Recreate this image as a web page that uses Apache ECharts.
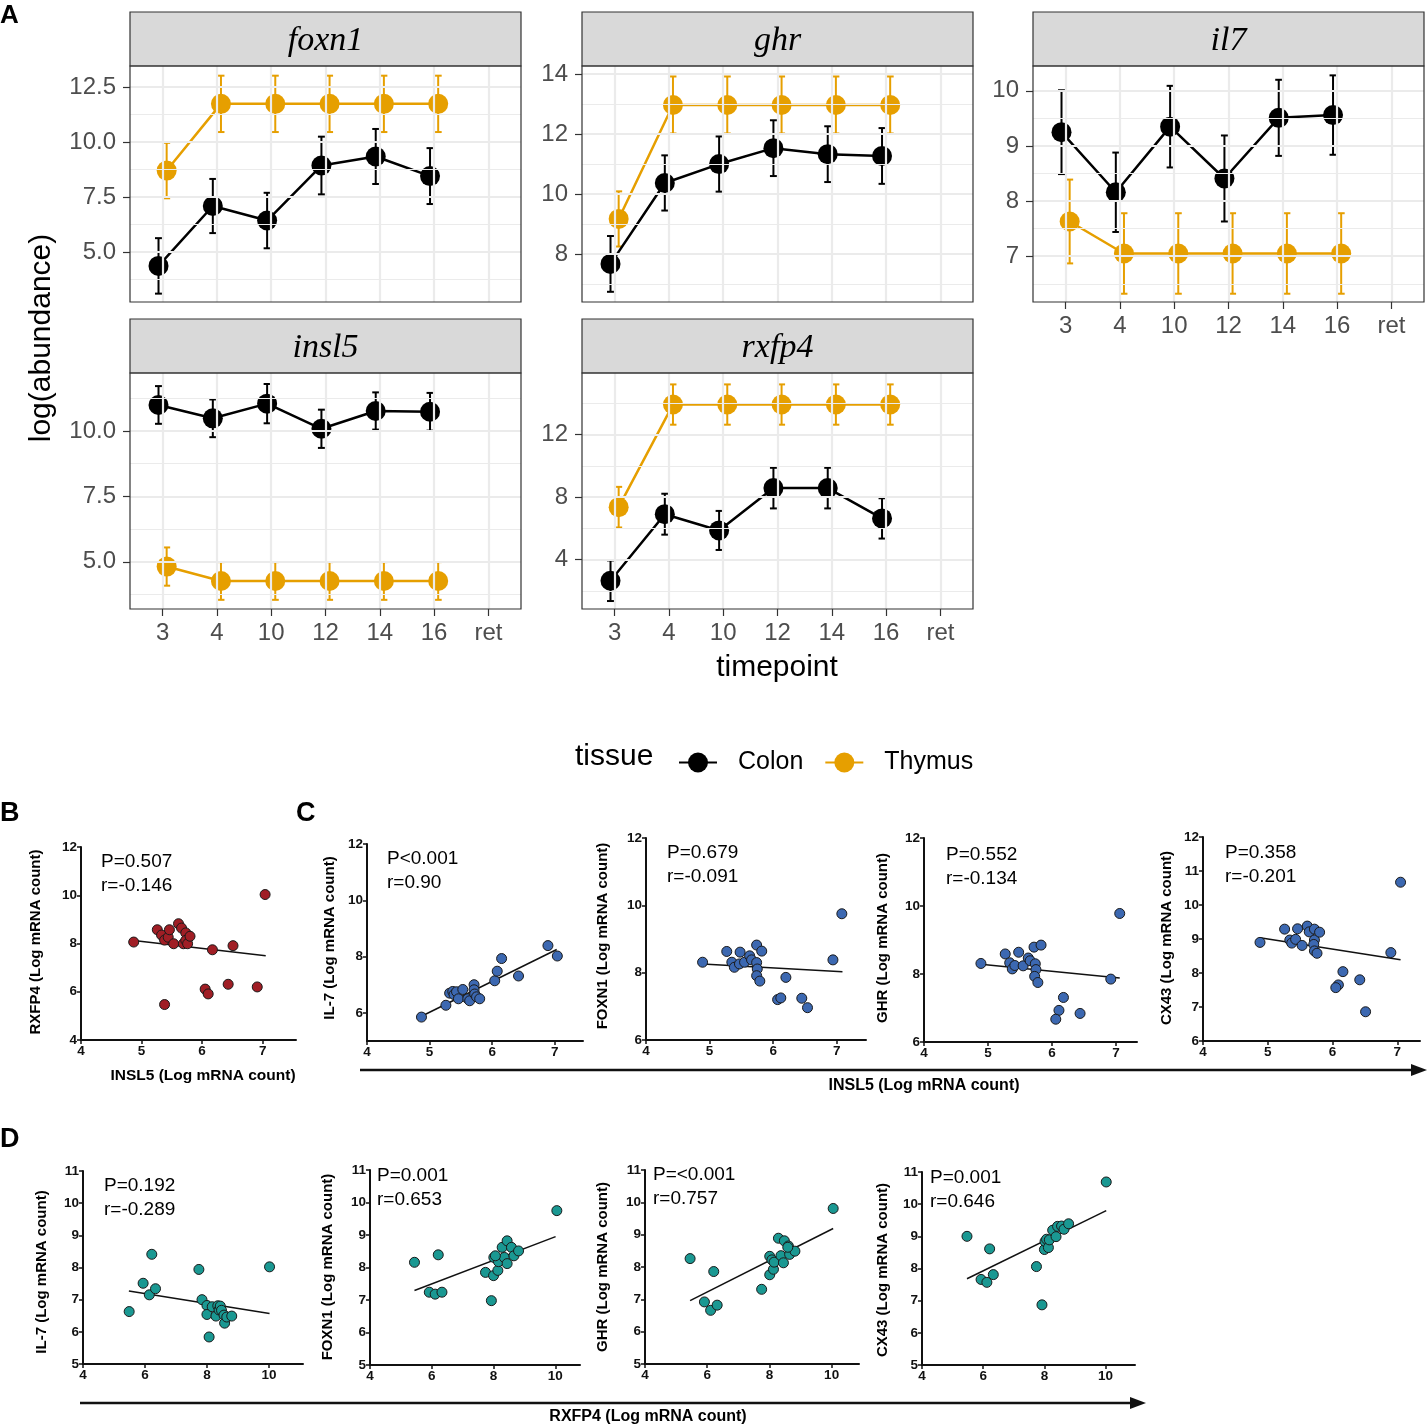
<!DOCTYPE html>
<html><head><meta charset="utf-8">
<script src="https://cdn.jsdelivr.net/npm/echarts@6/dist/echarts.min.js"></script>
<style>html,body{margin:0;padding:0;background:#fff}#c{width:1427px;height:1428px}</style>
</head><body><div id="c"></div>
<script>
// ---------- Panel A data ----------
const timepoints = ['3','4','10','12','14','16','ret'];
const foxn1Colon = [4.37, 7.09, 6.43, 8.93, 9.34, 8.45];
const foxn1ColonErr = [1.26, 1.23, 1.26, 1.31, 1.25, 1.27];
const foxn1Thymus = [8.70, 11.73, 11.73, 11.73, 11.73, 11.73];
const foxn1ThymusErr = [1.26, 1.28, 1.28, 1.28, 1.28, 1.28];
const ghrColon = [7.67, 10.37, 11.0, 11.53, 11.33, 11.27];
const ghrColonErr = [0.93, 0.92, 0.92, 0.93, 0.93, 0.93];
const ghrThymus = [9.17, 12.97, 12.97, 12.97, 12.97, 12.97];
const ghrThymusErr = [0.92, 0.95, 0.95, 0.95, 0.95, 0.95];
const il7Colon = [9.25, 8.16, 9.35, 8.41, 9.51, 9.56];
const il7ColonErr = [0.76, 0.72, 0.74, 0.78, 0.69, 0.72];
const il7Thymus = [7.63, 7.05, 7.05, 7.05, 7.05, 7.05];
const il7ThymusErr = [0.76, 0.73, 0.73, 0.73, 0.73, 0.73];
const insl5Colon = [10.99, 10.48, 11.04, 10.08, 10.76, 10.73];
const insl5ColonErr = [0.72, 0.72, 0.75, 0.73, 0.71, 0.72];
const insl5Thymus = [4.82, 4.27, 4.27, 4.27, 4.27, 4.27];
const insl5ThymusErr = [0.73, 0.72, 0.72, 0.72, 0.72, 0.72];
const rxfp4Colon = [2.65, 6.91, 5.87, 8.58, 8.58, 6.64];
const rxfp4ColonErr = [1.30, 1.31, 1.25, 1.30, 1.30, 1.29];
const rxfp4Thymus = [7.36, 13.93, 13.93, 13.93, 13.93, 13.93];
const rxfp4ThymusErr = [1.30, 1.29, 1.29, 1.29, 1.29, 1.29];
const foxn1Ticks = [5, 7.5, 10, 12.5], foxn1Minor = [3.75, 6.25, 8.75, 11.25];
const ghrTicks = [8, 10, 12, 14], ghrMinor = [7, 9, 11, 13];
const il7Ticks = [7, 8, 9, 10], il7Minor = [6.5, 7.5, 8.5, 9.5];
const insl5Ticks = [5, 7.5, 10], insl5Minor = [3.75, 6.25, 8.75, 11.25];
const rxfp4Ticks = [4, 8, 12], rxfp4Minor = [2, 6, 10, 14];

// ---------- Panel B/C/D data ----------
const bX = [4.87,5.26,5.33,5.38,5.44,5.46,5.53,5.61,5.66,5.69,5.73,5.73,5.76,5.80,6.17,6.51,6.05,6.10,6.43,6.91,7.04,5.38];
const bY = [8.06,8.57,8.35,8.14,8.26,8.57,7.99,8.82,8.64,7.99,8.44,8.13,7.99,8.30,7.74,7.91,6.11,5.91,6.31,6.20,10.03,5.47];
const bFit = [[4.87,8.12],[7.05,7.49]];
const c1X = [4.87,5.26,5.32,5.37,5.39,5.43,5.46,5.53,5.61,5.64,5.71,5.71,5.72,5.75,5.80,6.04,6.08,6.15,6.42,6.89,7.04];
const c1Y = [5.85,6.27,6.70,6.76,6.65,6.75,6.50,6.83,6.50,6.43,7.00,6.82,6.67,6.57,6.50,7.14,7.48,7.93,7.31,8.39,8.02];
const c1Fit = [[4.87,5.88],[7.03,8.25]];
const c2X = [4.89,5.27,5.35,5.39,5.48,5.47,5.55,5.63,5.66,5.74,5.74,5.75,5.74,5.79,5.82,6.20,6.07,6.12,6.45,6.54,6.94,7.08];
const c2Y = [8.31,8.63,8.31,8.16,8.61,8.26,8.31,8.50,8.38,8.82,8.30,8.11,7.91,7.75,8.64,7.86,7.20,7.25,7.24,6.96,8.38,9.75];
const c2Fit = [[4.89,8.26],[7.09,8.03]];
const c3X = [4.89,5.27,5.34,5.38,5.42,5.48,5.55,5.63,5.66,5.72,5.74,5.75,5.73,5.78,5.83,6.18,6.11,6.06,6.44,6.92,7.06];
const c3Y = [8.31,8.59,8.33,8.15,8.25,8.64,8.24,8.47,8.39,8.79,8.30,8.13,7.93,7.75,8.85,7.31,6.93,6.67,6.84,7.85,9.78];
const c3Fit = [[4.89,8.29],[7.06,7.88]];
const c4X = [4.88,5.26,5.34,5.37,5.43,5.46,5.53,5.61,5.64,5.72,5.72,5.71,5.72,5.76,5.80,6.16,6.09,6.05,6.42,6.51,6.90,7.05];
const c4Y = [8.90,9.29,8.97,8.88,8.99,9.30,8.81,9.38,9.21,9.29,8.97,8.84,8.65,8.58,9.20,8.04,7.65,7.57,7.80,6.86,8.60,10.67];
const c4Fit = [[4.88,9.04],[7.05,8.39]];
const d1X = [5.49,5.94,6.22,6.14,6.34,7.74,10.02,7.84,8.00,8.00,8.07,8.17,8.29,8.35,8.39,8.43,8.47,8.55,8.57,8.64,8.80];
const d1Y = [6.63,7.51,8.41,7.15,7.34,7.94,8.02,7.00,6.82,6.54,5.84,6.78,6.49,6.81,6.68,6.80,6.67,6.52,6.27,6.46,6.49];
const d1Fit = [[5.48,7.27],[10.02,6.57]];
const d2X = [5.44,6.21,5.92,6.11,6.33,7.93,7.74,8.00,8.14,8.01,8.16,8.28,8.35,8.44,8.44,8.58,8.66,8.81,10.05,8.06];
const d2Y = [8.16,8.39,7.24,7.18,7.24,6.98,7.85,7.75,7.91,8.31,8.18,8.62,8.31,8.12,8.82,8.62,8.36,8.51,9.75,8.36];
const d2Fit = [[5.44,7.29],[10.01,8.95]];
const d3X = [5.45,5.91,6.21,6.11,6.32,7.75,8.01,8.01,8.08,8.13,8.15,8.29,8.37,8.45,8.48,8.61,8.65,8.82,10.05,8.59];
const d3Y = [8.26,6.92,7.86,6.66,6.82,7.31,7.76,8.33,8.22,7.93,8.15,8.89,8.35,8.13,8.81,8.65,8.39,8.49,9.81,8.61];
const d3Fit = [[5.45,6.96],[10.05,9.19]];
const d4X = [5.47,6.21,5.93,6.12,6.33,7.74,7.92,8.00,8.02,8.07,8.13,8.16,8.27,8.38,8.43,8.56,8.64,8.79,10.02];
const d4Y = [9.00,8.61,7.66,7.57,7.81,8.06,6.87,8.59,8.84,8.91,8.65,8.89,9.19,8.99,9.31,9.32,9.22,9.39,10.69];
const d4Fit = [[5.47,7.68],[10.02,9.80]];
const insl5Xticks = [4,5,6,7];
const rxfp4Xticks = [4,6,8,10];

// ---------- build ----------
const chart = echarts.init(document.getElementById('c'), null, {width:1427, height:1428});
const grids = [], xAxis = [], yAxis = [], series = [], graphic = [];
const COLON = '#000000', THYMUS = '#E69F00';
const FONT = '"Liberation Sans", Arial, sans-serif';
const DODGE = 0.075;

function T(x, y, text, font, align, extra) {
  const el = {type:'text', x:x, y:y, z:100, silent:true,
    style:{text:text, font:font, fill:'#000', align:align||'left', textAlign:align||'left', verticalAlign:'middle', textVerticalAlign:'middle'}};
  return Object.assign(el, extra||{});
}

function errBar(gi, data, color) {
  return {type:'custom', xAxisIndex:gi, yAxisIndex:gi, silent:true, z:3, data:data,
    renderItem: function(params, api) {
      const x = api.value(0), y = api.value(1), e = api.value(2);
      const t = api.coord([x, y + e]), b = api.coord([x, y - e]);
      const st = {stroke:color, lineWidth:2};
      return {type:'group', children:[
        {type:'line', shape:{x1:t[0], y1:t[1], x2:b[0], y2:b[1]}, style:st},
        {type:'line', shape:{x1:t[0]-3.5, y1:t[1], x2:t[0]+3.5, y2:t[1]}, style:st},
        {type:'line', shape:{x1:b[0]-3.5, y1:b[1], x2:b[0]+3.5, y2:b[1]}, style:st}]};
    }};
}

function facet(name, left, top, yMin, yMax, ticks, minor, dec, showX, cM, cE, tM, tE) {
  const gi = grids.length, w = 391, h = 236;
  const cats = timepoints.map((_, i) => i);
  grids.push({left:left, top:top, width:w, height:h, show:true, backgroundColor:'#fff', borderWidth:0});
  xAxis.push({gridIndex:gi, type:'value', min:-0.6, max:6.6, axisLine:{show:false, onZero:false}, splitLine:{show:false},
    axisTick:{show:showX, customValues:cats, length:7, lineStyle:{color:'#333', width:1.2}},
    axisLabel:{show:showX, customValues:cats, margin:12, fontSize:24, color:'#4d4d4d', fontFamily:FONT,
      formatter: v => timepoints[Math.round(v)]}});
  yAxis.push({gridIndex:gi, type:'value', min:yMin, max:yMax, axisLine:{show:false, onZero:false}, splitLine:{show:false},
    axisTick:{show:true, customValues:ticks, length:7, lineStyle:{color:'#333', width:1.2}},
    axisLabel:{customValues:ticks, margin:14, fontSize:24, color:'#4d4d4d', fontFamily:FONT,
      formatter: v => dec ? Number(v).toFixed(1) : String(v)}});
  const ml = [];
  minor.forEach(v => ml.push({yAxis:v, lineStyle:{color:'#ebebeb', width:1.2, type:'solid'}}));
  ticks.forEach(v => ml.push({yAxis:v, lineStyle:{color:'#ebebeb', width:2.2, type:'solid'}}));
  cats.forEach(v => ml.push({xAxis:v, lineStyle:{color:'#ebebeb', width:2.2, type:'solid'}}));
  series.push({type:'line', xAxisIndex:gi, yAxisIndex:gi, data:[], symbol:'none', silent:true, z:1,
    markLine:{silent:true, symbol:['none','none'], label:{show:false}, animation:false, data:ml}});
  series.push(errBar(gi, cM.map((m, i) => [i - DODGE, m, cE[i]]), COLON));
  series.push(errBar(gi, tM.map((m, i) => [i + DODGE, m, tE[i]]), THYMUS));
  series.push({name:'Colon', type:'line', xAxisIndex:gi, yAxisIndex:gi, data:cM.map((m, i) => [i - DODGE, m]),
    symbol:'circle', symbolSize:20, showSymbol:true, lineStyle:{color:COLON, width:2.5}, itemStyle:{color:COLON}, z:4, silent:true});
  series.push({name:'Thymus', type:'line', xAxisIndex:gi, yAxisIndex:gi, data:tM.map((m, i) => [i + DODGE, m]),
    symbol:'circle', symbolSize:20, showSymbol:true, lineStyle:{color:THYMUS, width:2.5}, itemStyle:{color:THYMUS}, z:4, silent:true});
  graphic.push({type:'rect', z:100, silent:true, shape:{x:left, y:top-54, width:w, height:54}, style:{fill:'#d9d9d9', stroke:'#333', lineWidth:1.2}});
  graphic.push(T(left + w/2, top - 25, name, 'italic 34px "Liberation Serif", serif', 'center', {z:101}));
  graphic.push({type:'rect', z:100, silent:true, shape:{x:left, y:top, width:w, height:h}, style:{fill:'none', stroke:'#333', lineWidth:1.2}});
}

facet('foxn1', 130, 66, 2.73, 13.45, foxn1Ticks, foxn1Minor, true, false, foxn1Colon, foxn1ColonErr, foxn1Thymus, foxn1ThymusErr);
facet('ghr', 582, 66, 6.4, 14.27, ghrTicks, ghrMinor, false, false, ghrColon, ghrColonErr, ghrThymus, ghrThymusErr);
facet('il7', 1033, 66, 6.17, 10.45, il7Ticks, il7Minor, false, true, il7Colon, il7ColonErr, il7Thymus, il7ThymusErr);
facet('insl5', 130, 373, 3.2, 12.21, insl5Ticks, insl5Minor, true, true, insl5Colon, insl5ColonErr, insl5Thymus, insl5ThymusErr);
facet('rxfp4', 582, 373, 0.84, 15.95, rxfp4Ticks, rxfp4Minor, false, true, rxfp4Colon, rxfp4ColonErr, rxfp4Thymus, rxfp4ThymusErr);

graphic.push(T(42, 338, 'log(abundance)', '30px ' + FONT, 'center', {rotation: Math.PI/2}));
graphic.push(T(777, 668, 'timepoint', '30px ' + FONT, 'center'));
graphic.push(T(575, 757, 'tissue', '30px ' + FONT, 'left'));

function scatterPanel(l, t, r, b, xMax, yMin, yMax, xT, yT, xs, ys, fit, color, note, yTitle) {
  const gi = grids.length;
  grids.push({left:l, top:t, width:r - l, height:b - t, show:false});
  const tick = {show:true, length:4, lineStyle:{color:'#111', width:1.5}};
  const lab = {margin:4, fontSize:13.5, fontWeight:'bold', color:'#111', fontFamily:FONT};
  xAxis.push({gridIndex:gi, type:'value', min:4, max:xMax, splitLine:{show:false},
    axisLine:{show:true, onZero:false, lineStyle:{color:'#111', width:2}},
    axisTick:Object.assign({customValues:xT}, tick), axisLabel:Object.assign({customValues:xT}, lab)});
  yAxis.push({gridIndex:gi, type:'value', min:yMin, max:yMax, splitLine:{show:false},
    axisLine:{show:true, onZero:false, lineStyle:{color:'#111', width:2}},
    axisTick:Object.assign({customValues:yT}, tick), axisLabel:Object.assign({customValues:yT}, lab)});
  series.push({type:'line', xAxisIndex:gi, yAxisIndex:gi, data:fit, symbol:'none', silent:true, z:2,
    lineStyle:{color:'#111', width:1.5}});
  series.push({type:'scatter', xAxisIndex:gi, yAxisIndex:gi, data:xs.map((x, i) => [x, ys[i]]), symbolSize:10, silent:true, z:3,
    itemStyle:{color:color, borderColor:'#1a1a1a', borderWidth:1, opacity:1}});
  graphic.push(T(note[0], note[1], note[2], '19px ' + FONT, 'left'));
  graphic.push(T(note[0], note[1] + 24, note[3], '19px ' + FONT, 'left'));
  graphic.push(T(yTitle[0], yTitle[1], yTitle[2], 'bold 15px ' + FONT, 'center', {rotation: Math.PI/2}));
}

const RED = '#a01e25', BLUE = '#3c68b1', TEAL = '#1a9892';
scatterPanel(81, 847, 296, 1040, 7.55, 4, 12, insl5Xticks, [4,6,8,10,12], bX, bY, bFit, RED, [101, 862, 'P=0.507', 'r=-0.146'], [36, 942, 'RXFP4 (Log mRNA count)']);
scatterPanel(367, 844, 583, 1041, 7.45, 5, 12, insl5Xticks, [6,8,10,12], c1X, c1Y, c1Fit, BLUE, [387, 859, 'P<0.001', 'r=0.90'], [330, 938, 'IL-7 (Log mRNA count)']);
scatterPanel(646, 838, 866, 1040, 7.46, 6, 12, insl5Xticks, [6,8,10,12], c2X, c2Y, c2Fit, BLUE, [667, 853, 'P=0.679', 'r=-0.091'], [603, 936, 'FOXN1 (Log mRNA count)']);
scatterPanel(924, 838, 1137, 1042, 7.33, 6, 12, insl5Xticks, [6,8,10,12], c3X, c3Y, c3Fit, BLUE, [946, 855, 'P=0.552', 'r=-0.134'], [883, 938, 'GHR (Log mRNA count)']);
scatterPanel(1203, 837, 1420, 1041, 7.35, 6, 12, insl5Xticks, [6,7,8,9,10,11,12], c4X, c4Y, c4Fit, BLUE, [1225, 853, 'P=0.358', 'r=-0.201'], [1167, 938, 'CX43 (Log mRNA count)']);
scatterPanel(83, 1171, 303, 1364, 11.1, 5, 11, rxfp4Xticks, [5,6,7,8,9,10,11], d1X, d1Y, d1Fit, TEAL, [104, 1186, 'P=0.192', 'r=-0.289'], [42, 1272, 'IL-7 (Log mRNA count)']);
scatterPanel(370, 1170, 580, 1365, 10.8, 5, 11, rxfp4Xticks, [5,6,7,8,9,10,11], d2X, d2Y, d2Fit, TEAL, [377, 1176, 'P=0.001', 'r=0.653'], [328, 1267, 'FOXN1 (Log mRNA count)']);
scatterPanel(645, 1170, 859, 1364, 10.88, 5, 11, rxfp4Xticks, [5,6,7,8,9,10,11], d3X, d3Y, d3Fit, TEAL, [653, 1175, 'P=<0.001', 'r=0.757'], [603, 1267, 'GHR (Log mRNA count)']);
scatterPanel(922, 1172, 1135, 1365, 10.96, 5, 11, rxfp4Xticks, [5,6,7,8,9,10,11], d4X, d4Y, d4Fit, TEAL, [930, 1178, 'P=0.001', 'r=0.646'], [883, 1270, 'CX43 (Log mRNA count)']);

// shared axis titles, arrows, panel letters
graphic.push(T(203, 1076, 'INSL5 (Log mRNA count)', 'bold 15.5px ' + FONT, 'center'));
graphic.push(T(924, 1086, 'INSL5 (Log mRNA count)', 'bold 16px ' + FONT, 'center'));
graphic.push(T(648, 1417, 'RXFP4 (Log mRNA count)', 'bold 16px ' + FONT, 'center'));
graphic.push({type:'polyline', z:100, silent:true, shape:{points:[[360,1070],[1414,1070]]}, style:{stroke:'#111', lineWidth:2.5, fill:null}});
graphic.push({type:'polygon', z:100, silent:true, shape:{points:[[1411,1064],[1427,1070],[1411,1076]]}, style:{fill:'#111'}});
graphic.push({type:'polyline', z:100, silent:true, shape:{points:[[80,1403],[1133,1403]]}, style:{stroke:'#111', lineWidth:2.5, fill:null}});
graphic.push({type:'polygon', z:100, silent:true, shape:{points:[[1130,1397],[1146,1403],[1130,1409]]}, style:{fill:'#111'}});
graphic.push(T(0, 16, 'A', 'bold 26px ' + FONT, 'left'));
graphic.push(T(0, 814, 'B', 'bold 27px ' + FONT, 'left'));
graphic.push(T(296, 814, 'C', 'bold 27px ' + FONT, 'left'));
graphic.push(T(0, 1140, 'D', 'bold 27px ' + FONT, 'left'));

chart.setOption({
  animation:false,
  backgroundColor:'#fff',
  grid:grids, xAxis:xAxis, yAxis:yAxis, series:series,
  graphic:{elements:graphic},
  legend:{data:['Colon','Thymus'], left:673, top:745, itemWidth:38, itemHeight:25, itemGap:21, selectedMode:false,
    textStyle:{fontSize:25, fontFamily:FONT, color:'#000', padding:[0,0,0,16]}}
});
</script></body></html>
